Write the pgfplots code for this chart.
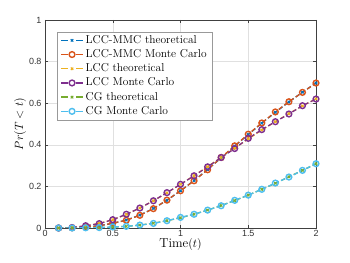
\documentclass[border=0pt]{standalone}
\usepackage{fontspec}
\usepackage{pgfplots}
\pgfplotsset{compat=1.18}
\usepackage{pgfplotstable}
\newfontfamily\tickfont{Liberation Sans}
\definecolor{mblue}{rgb}{0,0.447,0.741}
\definecolor{morange}{rgb}{0.85,0.325,0.098}
\definecolor{myellow}{rgb}{0.929,0.694,0.125}
\definecolor{mpurple}{rgb}{0.494,0.184,0.556}
\definecolor{mgreen}{rgb}{0.466,0.674,0.188}
\definecolor{mcyan}{rgb}{0.301,0.745,0.933}
\pgfplotstableread{
t mmcth mmcmc lccth lccmc cgth cgmc
0.1 0.000 0.000 0.000 0.000 0.000 0.000
0.2 0.001 0.001 0.002 0.002 0.000 0.000
0.3 0.005 0.005 0.010 0.011 0.001 0.001
0.4 0.011 0.010 0.022 0.021 0.002 0.002
0.5 0.022 0.024 0.040 0.040 0.004 0.005
0.6 0.038 0.037 0.065 0.066 0.008 0.008
0.7 0.062 0.061 0.096 0.096 0.014 0.014
0.8 0.094 0.093 0.131 0.131 0.023 0.022
0.9 0.133 0.134 0.169 0.170 0.035 0.035
1.0 0.179 0.179 0.210 0.210 0.049 0.051
1.1 0.228 0.227 0.252 0.251 0.066 0.066
1.2 0.281 0.280 0.295 0.294 0.086 0.086
1.3 0.337 0.339 0.339 0.339 0.108 0.107
1.4 0.394 0.395 0.384 0.382 0.132 0.133
1.5 0.449 0.451 0.428 0.431 0.158 0.158
1.6 0.504 0.505 0.471 0.473 0.186 0.186
1.7 0.556 0.558 0.511 0.511 0.215 0.216
1.8 0.606 0.607 0.550 0.548 0.246 0.245
1.9 0.653 0.652 0.587 0.588 0.277 0.277
2.0 0.697 0.697 0.621 0.620 0.309 0.309
}\data
\begin{document}
\begin{tikzpicture}
\begin{axis}[
  at={(0,0)}, anchor=south west,
  scale only axis, width=271bp, height=208bp,
  xmin=0, xmax=2, ymin=0, ymax=1,
  xtick={0,0.5,1,1.5,2}, ytick={0,0.2,0.4,0.6,0.8,1},
  xticklabels={0,0.5,1,1.5,2},
  yticklabels={0,0.2,0.4,0.6,0.8,1},
  tick label style={font=\tickfont\fontsize{9}{10}\selectfont, text=black!80},
  xticklabel style={yshift=1bp},
  tick align=inside, tick pos=both,
  major tick length=3bp,
  axis line style={black!75},
  every tick/.style={black!75},
  grid=major, major grid style={black!12, line width=0.4pt},
  xlabel={Time$(t)$}, ylabel={$Pr(T<t)$},
  label style={font=\fontsize{13}{15}\selectfont},
  xlabel style={yshift=5bp},
  ylabel style={yshift=-4bp},
  legend cell align=left,
  legend style={at={(0.045,0.944)}, anchor=north west,
    font=\fontsize{11.5}{13}\selectfont,
    nodes={font=\fontsize{11.5}{13}\selectfont, inner ysep=0pt, text height=8.5bp, text depth=2.5bp},
    draw=black!40, row sep=3.2bp, inner xsep=3bp, inner ysep=3bp},
  legend image code/.code={\draw[mark repeat=2,mark phase=2,#1,dash pattern=on 7bp off 8bp] plot coordinates {(0bp,0bp)(11bp,0bp)(22bp,0bp)};},
  every axis plot/.append style={line width=1.3pt, dash pattern=on 4.5pt off 2.5pt},
]
\addplot[mblue, mark=x, mark size=1.7pt, mark options={solid, line width=1.1pt}] table[x=t,y=mmcth]{\data};
\addlegendentry{LCC-MMC theoretical}
\addplot[morange, mark=o, mark size=2.9pt, mark options={solid, line width=1.4pt}] table[x=t,y=mmcmc]{\data};
\addlegendentry{LCC-MMC Monte Carlo}
\addplot[myellow, mark=x, mark size=1.7pt, mark options={solid, line width=1.1pt}] table[x=t,y=lccth]{\data};
\addlegendentry{LCC theoretical}
\addplot[mpurple, mark=o, mark size=2.9pt, mark options={solid, line width=1.4pt}] table[x=t,y=lccmc]{\data};
\addlegendentry{LCC Monte Carlo}
\addplot[mgreen, mark=x, mark size=1.7pt, mark options={solid, line width=1.1pt}] table[x=t,y=cgth]{\data};
\addlegendentry{CG theoretical}
\addplot[mcyan, mark=o, mark size=2.9pt, mark options={solid, line width=1.4pt}] table[x=t,y=cgmc]{\data};
\addlegendentry{CG Monte Carlo}
\end{axis}
\pgfresetboundingbox
\path[use as bounding box] (-45bp,-35bp) rectangle (305bp,228bp);
\end{tikzpicture}
\end{document}
